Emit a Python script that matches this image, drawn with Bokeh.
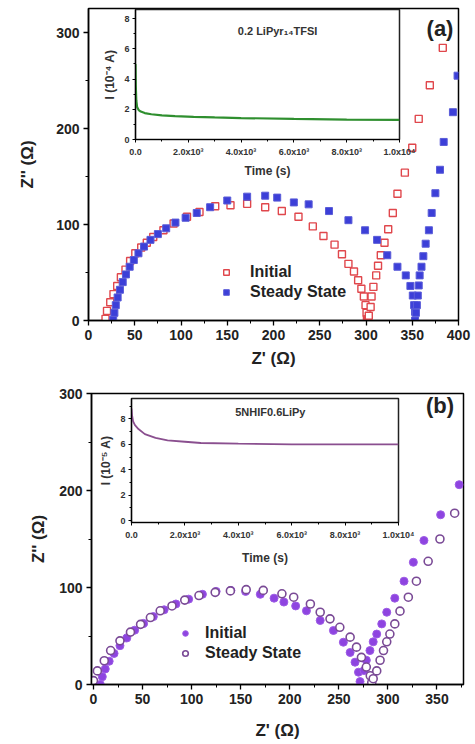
from bokeh.plotting import figure
from bokeh.models import (GridBox, Label, Legend, LegendItem, SingleIntervalTicker,
                          FixedTicker, Range1d)
from bokeh.embed import file_html
from bokeh.resources import INLINE

# ---------------- data: panel (a) ----------------
a_init_x = [18.4, 20, 23.5, 27, 31, 35, 40, 45, 50.6, 57, 63, 70, 81, 92, 106.5, 120, 137, 153.5,
            171.5, 191, 209, 227, 242.5, 254, 266, 274, 281, 287, 291.5, 295, 297.7, 299.5,
            300.6, 301, 302, 303, 305, 306, 308, 311, 313, 316, 320, 324, 329, 334, 342, 350,
            357, 369, 383]
a_init_y = [1.7, 10, 19, 27.5, 36, 45, 53, 62, 70, 76, 81, 87, 94, 101, 108, 113, 119, 120,
            121.5, 118, 114, 108, 98, 88, 79, 69, 59, 51, 42, 33, 25, 16,
            8, 1, 0, 5, 14, 25, 35, 47, 57, 68, 81, 95, 112, 132, 154, 180,
            210, 245, 284]
a_ss_x = [26.7, 28, 29.5, 31.5, 34, 37, 40.5, 44.5, 49, 54, 60, 67, 75, 84, 94, 105, 117,
          131.5, 150, 171.5, 191, 204, 222, 238, 260, 281, 299, 312, 323, 334, 343, 348,
          350.6, 352, 353, 353, 354, 355, 356, 357, 358, 360, 362, 364.5, 368, 371, 375,
          380, 384, 394, 399]
a_ss_y = [0.7, 8, 16, 24, 32, 40, 48, 56, 63, 70, 77, 84, 90, 96, 102, 107, 112,
          118, 125, 129, 130, 128, 123, 121, 114, 104.5, 94, 84, 68, 56, 47, 36,
          26, 16, 9, 0, 8, 16, 26, 36.5, 47, 56, 67, 80, 94, 112, 132.6,
          157, 186, 217, 255]
a_t = [0, 10, 30, 60, 120, 200, 350, 600, 1000, 1500, 2200, 3000, 4000, 6000, 8000, 10000]
a_i = [5.0, 3.6, 2.6, 2.15, 1.95, 1.85, 1.75, 1.67, 1.6, 1.55, 1.5, 1.46, 1.42, 1.36, 1.32, 1.3]

# ---------------- data: panel (b) ----------------
b_init_x = [7, 9, 12, 16, 21, 27, 34, 42, 51, 61, 72, 84, 97, 111, 125, 140, 155, 170, 184,
            194, 206, 217, 231, 244.5, 254.6, 261.5, 266.5, 270, 271.6,
            275.7, 278, 281.7, 285, 288.6, 293.7, 298.8, 307, 316.4, 325.9, 336.7, 353.7, 372.6]
b_init_y = [0, 8, 16, 24, 32, 40, 48, 56, 63, 70, 77, 83, 88, 93, 96, 97, 96, 93, 89,
            85, 81, 76, 66, 55.7, 43.6, 33, 23, 12.7, 3,
            14.4, 25, 35, 44, 52, 62.5, 74.5, 89, 106.5, 126, 148.5, 175, 206]
b_ss_x = [0, 4, 11, 17.5, 27, 37.7, 48, 58, 68, 80, 93, 107.5, 124, 139.5, 155.6, 173, 192,
          204, 221, 231, 241, 251, 261.5, 268, 273, 278, 282, 283.5,
          285, 288.6, 292, 295.5, 298.8, 302, 307, 312.3, 320.8, 329, 341, 353, 368]
b_ss_y = [4, 14, 24.5, 35, 45, 54, 62, 69, 76, 81, 87, 91.7, 95, 96.5, 97.8, 97, 93.5,
          90, 83, 74.5, 67.7, 59, 48.8, 38.5, 28, 18, 9, 2,
          6, 14, 25, 35, 44, 52, 62.5, 75.6, 90, 106.5, 127, 150, 176.6]
b_t = [0, 20, 60, 130, 260, 500, 900, 1350, 2000, 2600, 4000, 6000, 8000, 10000]
b_i = [8.8, 8.3, 7.8, 7.5, 7.2, 6.8, 6.5, 6.3, 6.2, 6.1, 6.05, 6.0, 6.0, 6.0]

inset_xticks = [0, 2000, 4000, 6000, 8000, 10000]
inset_xlabels = ["0.0", "2.0x10\u00b3", "4.0x10\u00b3", "6.0x10\u00b3", "8.0x10\u00b3", "1.0x10\u2074"]

FONT = "Liberation Sans"


def style_main(p, xint, ylab_standoff, xlab_standoff):
    p.outline_line_color = "black"
    p.outline_line_width = 1.5
    p.grid.visible = False
    for ax in (p.xaxis[0], p.yaxis[0]):
        ax.major_label_text_font = FONT
        ax.major_label_text_font_style = "bold"
        ax.major_label_text_font_size = "14px"
        ax.major_label_text_color = "#222222"
        ax.axis_label_text_font = FONT
        ax.axis_label_text_font_style = "bold"
        ax.axis_label_text_font_size = "17px"
        ax.axis_label_text_color = "#222222"
        ax.axis_line_width = 1.5
        ax.major_tick_in = 0
        ax.major_tick_out = 5
        ax.minor_tick_in = 0
        ax.minor_tick_out = 3
        ax.major_tick_line_width = 1.3
        ax.major_label_standoff = 4
    p.yaxis[0].axis_label_standoff = ylab_standoff
    p.xaxis[0].axis_label_standoff = xlab_standoff
    p.xaxis[0].ticker = SingleIntervalTicker(interval=xint, num_minor_ticks=2)
    p.yaxis[0].ticker = SingleIntervalTicker(interval=100, num_minor_ticks=2)


def style_inset(p, xlab_standoff):
    p.outline_line_color = "#222222"
    p.outline_line_width = 1.5
    p.grid.visible = False
    p.border_fill_alpha = 0
    p.background_fill_color = "white"
    for ax in (p.xaxis[0], p.yaxis[0]):
        ax.major_label_text_font = FONT
        ax.major_label_text_font_style = "bold"
        ax.major_label_text_font_size = "9px"
        ax.major_label_text_color = "#333333"
        ax.axis_label_text_font = FONT
        ax.axis_label_text_font_style = "bold"
        ax.axis_label_text_font_size = "12px"
        ax.axis_label_text_color = "#333333"
        ax.axis_line_width = 1.2
        ax.major_tick_in = 0
        ax.major_tick_out = 3
        ax.minor_tick_in = 0
        ax.minor_tick_out = 2
        ax.major_label_standoff = 3
        ax.axis_label_standoff = 4
    p.xaxis[0].major_label_standoff = 4
    p.xaxis[0].axis_label_standoff = xlab_standoff
    p.xaxis[0].ticker = FixedTicker(ticks=inset_xticks, minor_ticks=[1000, 3000, 5000, 7000, 9000])
    p.xaxis[0].major_label_overrides = {t: l for t, l in zip(inset_xticks, inset_xlabels)}
    p.yaxis[0].ticker = SingleIntervalTicker(interval=2, num_minor_ticks=2)


def make_legend(items, loc, standoff):
    return Legend(items=items, location=loc, border_line_alpha=0, background_fill_alpha=0,
                  padding=0, margin=0, spacing=0, glyph_width=14, glyph_height=20,
                  label_height=20, label_standoff=standoff,
                  label_text_font=FONT, label_text_font_style="bold",
                  label_text_font_size="16px", label_text_color="#222222")


# ---------------- panel (a) ----------------
pa = figure(width=475, height=370, x_range=Range1d(0, 400), y_range=Range1d(0, 325),
            output_backend="svg", toolbar_location=None, frame_align=False,
            min_border_left=88, min_border_right=17, min_border_top=8, min_border_bottom=50)
pa.xaxis.axis_label = "Z' (\u03a9)"
pa.yaxis.axis_label = "Z'' (\u03a9)"
style_main(pa, 50, 16, 6)
ra = pa.scatter(a_init_x, a_init_y, marker="square", size=7, fill_color="white",
                line_color="#e0474c", line_width=1.4)
ba = pa.scatter(a_ss_x, a_ss_y, marker="square", size=7, fill_color="#3c3fd8",
                line_color="#5a5cd8", line_width=1)
pa.add_layout(make_legend([LegendItem(label="Initial", renderers=[ra]),
                           LegendItem(label="Steady State", renderers=[ba])], (131, 18), 17))
pa.add_layout(Label(x=380, y=304, text="(a)", text_font=FONT, text_font_style="bold",
                    text_font_size="22px", text_align="center", text_baseline="middle",
                    text_color="#222222"))

# inset (a): same canvas size as the main panel; its frame sits where the reference has it
ia = figure(width=475, height=190, x_range=Range1d(0, 10000), y_range=Range1d(0, 8.6),
            output_backend="svg", toolbar_location=None, frame_align=False,
            min_border_left=135, min_border_right=76, min_border_top=9, min_border_bottom=51)
ia.xaxis.axis_label = "Time (s)"
ia.yaxis.axis_label = "I (10\u207b\u2074 A)"
style_inset(ia, 4)
ia.line(a_t, a_i, line_color="#2f8f2f", line_width=2.2)
ia.add_layout(Label(x=5380, y=7.2, text="0.2 LiPyr\u2081\u2084TFSI", text_font=FONT,
                    text_font_style="bold", text_font_size="11px", text_align="center",
                    text_baseline="middle", text_color="#333333"))

# ---------------- panel (b) ----------------
pb = figure(width=475, height=374, x_range=Range1d(-2, 377), y_range=Range1d(0, 300),
            output_backend="svg", toolbar_location=None, frame_align=False,
            min_border_left=91, min_border_right=12, min_border_top=23, min_border_bottom=60)
pb.xaxis.axis_label = "Z' (\u03a9)"
pb.yaxis.axis_label = "Z'' (\u03a9)"
style_main(pb, 50, 8, 14)
fb = pb.scatter(b_init_x, b_init_y, marker="circle", size=8, fill_color="#8e44e0",
                line_color="#9d5ce6", line_width=1)
ob = pb.scatter(b_ss_x, b_ss_y, marker="circle", size=8, fill_color="white",
                line_color="#7a4a96", line_width=1.6)
pb.add_layout(make_legend([LegendItem(label="Initial", renderers=[fb]),
                           LegendItem(label="Steady State", renderers=[ob])], (87, 21), 13))
pb.add_layout(Label(x=353, y=288, text="(b)", text_font=FONT, text_font_style="bold",
                    text_font_size="22px", text_align="center", text_baseline="middle",
                    text_color="#222222"))

ib = figure(width=475, height=209, x_range=Range1d(0, 10000), y_range=Range1d(-0.15, 9.6),
            output_backend="svg", toolbar_location=None, frame_align=False,
            min_border_left=131, min_border_right=77, min_border_top=28, min_border_bottom=57)
ib.xaxis.axis_label = "Time (s)"
ib.yaxis.axis_label = "I (10\u207b\u2075 A)"
style_inset(ib, 8)
ib.line(b_t, b_i, line_color="#8a4f8f", line_width=1.8)
ib.add_layout(Label(x=5200, y=8.5, text="5NHIF0.6LiPy", text_font=FONT,
                    text_font_style="bold", text_font_size="11px", text_align="center",
                    text_baseline="middle", text_color="#333333"))

grid = GridBox(children=[(pa, 0, 0), (ia, 0, 0), (pb, 1, 0), (ib, 1, 0)])

open("out.html", "w").write(file_html(grid, INLINE))
